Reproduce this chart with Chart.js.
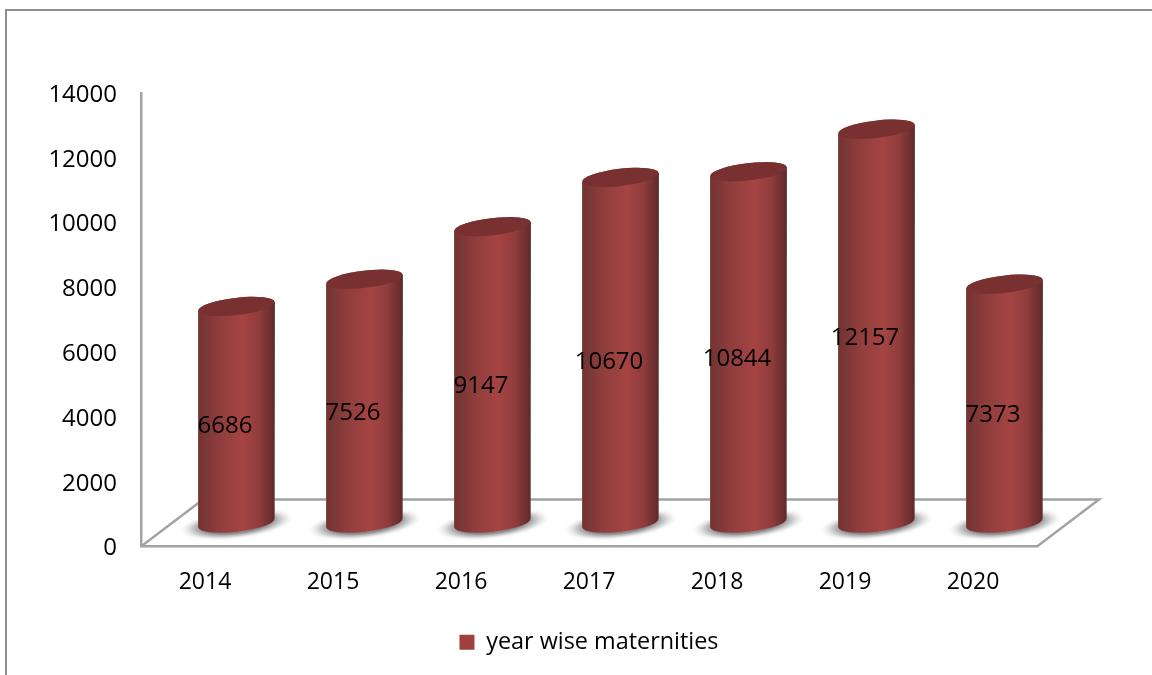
<!DOCTYPE html>
<html>
<head>
<meta charset="utf-8">
<title>year wise maternities</title>
<script src="https://cdn.jsdelivr.net/npm/chart.js@4/dist/chart.umd.js"></script>
<style>
    html, body { margin: 0; padding: 0; background: #fff; }
    #chart { display: block; }
</style>
</head>
<body>
<canvas id="chart" width="1152" height="675"></canvas>
<script>
(function () {
    'use strict';

    var years = ['2014', '2015', '2016', '2017', '2018', '2019', '2020'];
    var maternities = [6686, 7526, 9147, 10670, 10844, 12157, 7373];
    var seriesName = 'year wise maternities';

    var FONT = '"Open Sans", sans-serif';
    var GREY = '#a3a3a3';
    var RED = '#a04140';
    var TILT = -6.7 * Math.PI / 180;

    // the floor goes back by this much, the cylinders stand half way on it
    var FLOOR_X = 62;
    var FLOOR_Y = 47;

    function drawFrame(ctx) {
        ctx.save();
        ctx.strokeStyle = '#8e8e8e';
        ctx.lineWidth = 2;
        ctx.beginPath();
        ctx.moveTo(6, 675);
        ctx.lineTo(6, 10);
        ctx.lineTo(1152, 10);
        ctx.stroke();
        ctx.restore();
    }

    function drawFloor(ctx, area) {
        ctx.save();
        ctx.strokeStyle = GREY;
        ctx.lineWidth = 2.5;
        ctx.beginPath();
        ctx.moveTo(area.left, area.bottom);
        ctx.lineTo(area.left + FLOOR_X, area.bottom - FLOOR_Y);
        ctx.lineTo(area.right + FLOOR_X, area.bottom - FLOOR_Y);
        ctx.lineTo(area.right, area.bottom);
        ctx.stroke();
        ctx.restore();
    }

    function drawShadow(ctx, x, y, r) {
        var g;
        ctx.save();
        ctx.translate(x, y + 1);
        ctx.rotate(TILT);
        ctx.scale(1, 0.26);
        g = ctx.createRadialGradient(0, 0, r * 0.9, 0, 0, r * 1.5);
        g.addColorStop(0, 'rgba(125,125,125,0.9)');
        g.addColorStop(0.4, 'rgba(160,160,160,0.6)');
        g.addColorStop(1, 'rgba(230,230,230,0)');
        ctx.fillStyle = g;
        ctx.beginPath();
        ctx.arc(0, 0, r * 1.5, 0, Math.PI * 2);
        ctx.fill();
        ctx.restore();
    }

    function drawCylinder(ctx, el) {
        var r = el.width / 2;
        var ry = 8.6;
        var x = el.x + FLOOR_X / 2 + 0.5;
        var top = el.y - FLOOR_Y / 2;
        var bottom = el.base - FLOOR_Y / 2;
        var dy = r * Math.sin(TILT);
        var g = ctx.createLinearGradient(x - r, 0, x + r, 0);

        g.addColorStop(0, '#703332');
        g.addColorStop(0.25, '#8d3d3c');
        g.addColorStop(0.58, '#a54443');
        g.addColorStop(0.8, '#8f3c3b');
        g.addColorStop(1, '#5e2a29');

        drawShadow(ctx, x, bottom, r);

        ctx.save();
        ctx.fillStyle = g;
        ctx.beginPath();
        ctx.moveTo(x - r, top - dy);
        ctx.lineTo(x - r, bottom - dy);
        ctx.ellipse(x, bottom, r, ry, TILT, Math.PI, 0, true);
        ctx.lineTo(x + r, top + dy);
        ctx.ellipse(x, top, r, ry, TILT, 0, Math.PI, true);
        ctx.closePath();
        ctx.fill();

        ctx.fillStyle = '#783130';
        ctx.beginPath();
        ctx.ellipse(x, top, r, ry, TILT, 0, Math.PI * 2);
        ctx.fill();
        ctx.restore();
    }

    var cylinderPlugin = {
        'id': 'cylinders',
        'beforeDraw': function (chart) {
            drawFrame(chart.ctx);
            drawFloor(chart.ctx, chart.chartArea);
        },
        // replaces the flat bars, positions still come from the bar elements
        'beforeDatasetDraw': function (chart, args) {
            args.meta.data.forEach(function (el) {
                drawCylinder(chart.ctx, el);
            });
            return false;
        },
        'afterDatasetsDraw': function (chart) {
            var ctx = chart.ctx;
            ctx.save();
            ctx.font = '24px ' + FONT;
            ctx.fillStyle = '#000';
            ctx.textAlign = 'center';
            ctx.textBaseline = 'middle';
            chart.getDatasetMeta(0).data.forEach(function (el, i) {
                ctx.fillText(String(maternities[i]), el.x + 20, (el.y + el.base) / 2 - 12);
            });
            ctx.restore();
        }
    };

    new Chart(document.getElementById('chart'), { //eslint-disable-line
        'type'    : 'bar',
        'plugins' : [cylinderPlugin],
        'data'    : {
            'labels'   : years,
            'datasets' : [{
                'label'              : seriesName,
                'data'               : maternities,
                'backgroundColor'    : RED,
                'barPercentage'      : 0.6,
                'categoryPercentage' : 1
            }]
        },
        'options' : {
            'responsive' : false,
            'animation'  : false,
            'layout'     : {
                'padding' : { 'top': 93, 'left': 0, 'right': 115, 'bottom': 11 }
            },
            'plugins' : {
                'tooltip' : { 'enabled': false },
                'legend'  : {
                    'position' : 'bottom',
                    'fullSize' : false,
                    'labels'   : {
                        'color'     : '#000',
                        'boxWidth'  : 15,
                        'boxHeight' : 15,
                        'padding'   : 10,
                        'font'      : { 'family': FONT, 'size': 23.4 }
                    }
                }
            },
            'scales' : {
                'x' : {
                    'grid'   : { 'display': false, 'drawTicks': false },
                    'border' : { 'color': GREY, 'width': 2.5 },
                    'ticks'  : {
                        'color'       : '#000',
                        'padding'     : 22,
                        'maxRotation' : 0,
                        'font'        : { 'family': FONT, 'size': 23 }
                    },
                    'afterFit' : function (scale) { scale.height = 74; }
                },
                'y' : {
                    'min'    : 0,
                    'max'    : 14000,
                    'grid'   : { 'display': false, 'drawTicks': false },
                    'border' : { 'color': GREY, 'width': 2.5 },
                    'ticks'  : {
                        'stepSize'    : 2000,
                        'color'       : '#000',
                        'padding'     : 24,
                        'labelOffset' : 2,
                        'font'        : { 'family': FONT, 'size': 24 },
                        'callback'    : function (value) { return String(value); }
                    },
                    'afterFit' : function (scale) { scale.width = 141; }
                }
            }
        }
    });
}());
</script>
</body>
</html>
